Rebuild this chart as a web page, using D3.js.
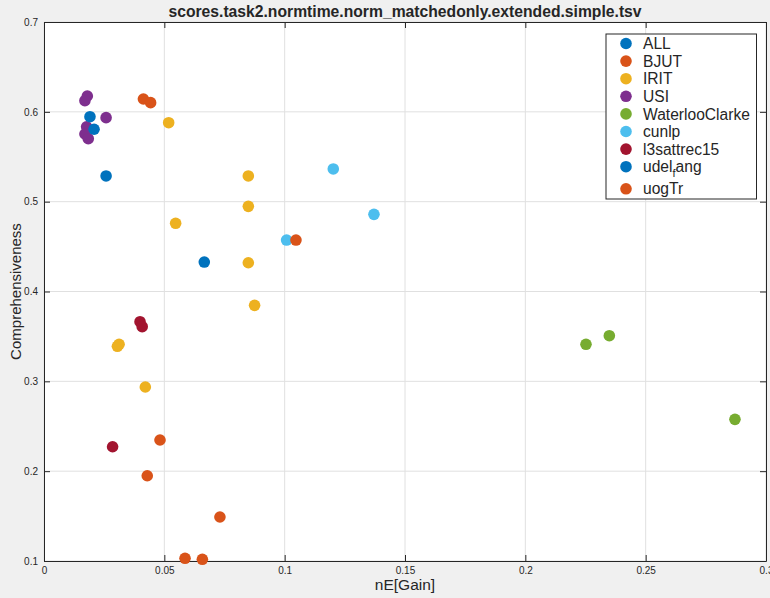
<!DOCTYPE html>
<html>
<head>
<meta charset="utf-8">
<script src="https://cdn.jsdelivr.net/npm/d3@7"></script>
<style>
  body { margin: 0; background: #f0f0f0; }
  text { font-family: "Liberation Sans", Arial, Helvetica, sans-serif; fill: #262626; }
</style>
</head>
<body>
<svg id="canvas" width="770" height="598"></svg>
<script>
// ************************************************************************************** //
// Data

var series_names = ['ALL', 'BJUT', 'IRIT', 'USI', 'WaterlooClarke', 'cunlp', 'l3sattrec15', 'udel_fang', 'uogTr'];
var series_colors = ['#0072BD', '#D95319', '#EDB120', '#7E2F8E', '#77AC30', '#4DBEEE', '#A2142F', '#0072BD', '#D95319'];

var all_x = [0.0666];
var all_y = [0.4328];
var bjut_x = [0.0413, 0.0443, 0.0482, 0.0429];
var bjut_y = [0.6143, 0.6102, 0.2347, 0.1949];
var irit_x = [0.0518, 0.0849, 0.0849, 0.0547, 0.0849, 0.0875, 0.0305, 0.0312, 0.0421];
var irit_y = [0.5879, 0.5286, 0.4948, 0.4759, 0.4320, 0.3846, 0.3390, 0.3412, 0.2937];
var usi_x = [0.0180, 0.0170, 0.0258, 0.0177, 0.0170, 0.0184];
var usi_y = [0.6176, 0.6124, 0.5935, 0.5834, 0.5753, 0.5701];
var waterloo_x = [0.2252, 0.2349, 0.2871];
var waterloo_y = [0.3412, 0.3508, 0.2577];
var cunlp_x = [0.1202, 0.1371, 0.1008];
var cunlp_y = [0.5364, 0.4859, 0.4573];
var l3sat_x = [0.0399, 0.0408, 0.0285];
var l3sat_y = [0.3664, 0.3608, 0.2272];
var udel_x = [0.0191, 0.0208, 0.0258];
var udel_y = [0.5946, 0.5806, 0.5286];
var uogtr_x = [0.1047, 0.0731, 0.0586, 0.0658];
var uogtr_y = [0.4573, 0.1490, 0.1030, 0.1019];

var x_ticks = [0, 0.05, 0.1, 0.15, 0.2, 0.25, 0.3];
var y_ticks = [0.1, 0.2, 0.3, 0.4, 0.5, 0.6, 0.7];

var series_x = [all_x, bjut_x, irit_x, usi_x, waterloo_x, cunlp_x, l3sat_x, udel_x, uogtr_x];
var series_y = [all_y, bjut_y, irit_y, usi_y, waterloo_y, cunlp_y, l3sat_y, udel_y, uogtr_y];

// ************************************************************************************** //
// Preparing the axes

var plot_left = 44, plot_right = 766, plot_top = 22, plot_bottom = 561;
var svg = d3.select('#canvas');

var x = d3.scaleLinear().domain([0, 0.3]).range([plot_left, plot_right]);
var y = d3.scaleLinear().domain([0.1, 0.7]).range([plot_bottom, plot_top]);
var fmt = function(d){ return String(+d.toFixed(2)); };

svg.append('rect').attr('x', plot_left).attr('y', plot_top)
  .attr('width', plot_right - plot_left).attr('height', plot_bottom - plot_top).attr('fill', '#fff');

// Grid lines
var grid_g = svg.append('g');
x_ticks.forEach(function(t){
  grid_g.append('line').attr('x1', x(t)).attr('x2', x(t)).attr('y1', plot_top).attr('y2', plot_bottom)
    .attr('stroke', '#e0e0e0').attr('stroke-width', 1);
});
y_ticks.forEach(function(t){
  grid_g.append('line').attr('y1', y(t)).attr('y2', y(t)).attr('x1', plot_left).attr('x2', plot_right)
    .attr('stroke', '#e0e0e0').attr('stroke-width', 1);
});

// Axes (ticks point inside, box on all four sides)
var tick_len = 6;
var bottom_axis = svg.append('g').attr('transform', 'translate(0,' + plot_bottom + ')')
  .call(d3.axisBottom(x).tickValues(x_ticks).tickFormat(fmt).tickSizeInner(-tick_len).tickSizeOuter(0).tickPadding(6));
var top_axis = svg.append('g').attr('transform', 'translate(0,' + plot_top + ')')
  .call(d3.axisTop(x).tickValues(x_ticks).tickFormat('').tickSizeInner(-tick_len).tickSizeOuter(0));
var left_axis = svg.append('g').attr('transform', 'translate(' + plot_left + ',0)')
  .call(d3.axisLeft(y).tickValues(y_ticks).tickFormat(fmt).tickSizeInner(-tick_len).tickSizeOuter(0).tickPadding(6));
var right_axis = svg.append('g').attr('transform', 'translate(' + plot_right + ',0)')
  .call(d3.axisRight(y).tickValues(y_ticks).tickFormat('').tickSizeInner(-tick_len).tickSizeOuter(0));

[bottom_axis, top_axis, left_axis, right_axis].forEach(function(a){
  a.select('.domain').attr('stroke', '#262626').attr('stroke-width', 1);
  a.selectAll('.tick line').attr('stroke', '#262626');
  a.selectAll('.tick text').attr('font-size', 10).attr('fill', '#262626')
    .style('font-family', '"Liberation Sans", Arial, sans-serif');
});

// ************************************************************************************** //
// Points

var points_g = svg.append('g');
for(var i = 0; i < series_names.length; i++){
  for(var j = 0; j < series_x[i].length; j++){
    points_g.append('circle').attr('cx', x(series_x[i][j])).attr('cy', y(series_y[i][j]))
      .attr('r', 5.8).attr('fill', series_colors[i]);
  }
}

// ************************************************************************************** //
// Titles

svg.append('text').attr('x', (plot_left + plot_right)/2).attr('y', 16.5)
  .attr('text-anchor', 'middle').attr('font-size', 15.7).attr('font-weight', 'bold')
  .text('scores.task2.normtime.norm_matchedonly.extended.simple.tsv');

svg.append('text').attr('x', (plot_left + plot_right)/2).attr('y', 590)
  .attr('text-anchor', 'middle').attr('font-size', 15.5).text('nE[Gain]');

svg.append('text').attr('transform', 'translate(21,' + ((plot_top + plot_bottom)/2) + ') rotate(-90)')
  .attr('text-anchor', 'middle').attr('font-size', 15).text('Comprehensiveness');

// ************************************************************************************** //
// Legend

var legend_g = svg.append('g');
legend_g.append('rect').attr('x', 606).attr('y', 34).attr('width', 150.5).attr('height', 165)
  .attr('fill', '#fff').attr('stroke', '#262626').attr('stroke-width', 1);

var row_y = 43.5, row_step = 17.6;
for(var i = 0; i < series_names.length; i++){
  legend_g.append('circle').attr('cx', 626).attr('cy', row_y).attr('r', 5.8).attr('fill', series_colors[i]);
  var temp_ = legend_g.append('text').attr('x', 643).attr('y', row_y).attr('dy', '0.36em').attr('font-size', 15.6);
  var parts = series_names[i].split('_');
  temp_.append('tspan').text(parts[0]);
  if(parts.length > 1){
    // TeX-style subscript, as in the original legend
    temp_.append('tspan').attr('dy', 5).attr('font-size', 11).text(parts[1].charAt(0));
    temp_.append('tspan').attr('dy', -5).text(parts[1].slice(1));
    row_y += 4.5;
  }
  row_y += row_step;
}
</script>
</body>
</html>
